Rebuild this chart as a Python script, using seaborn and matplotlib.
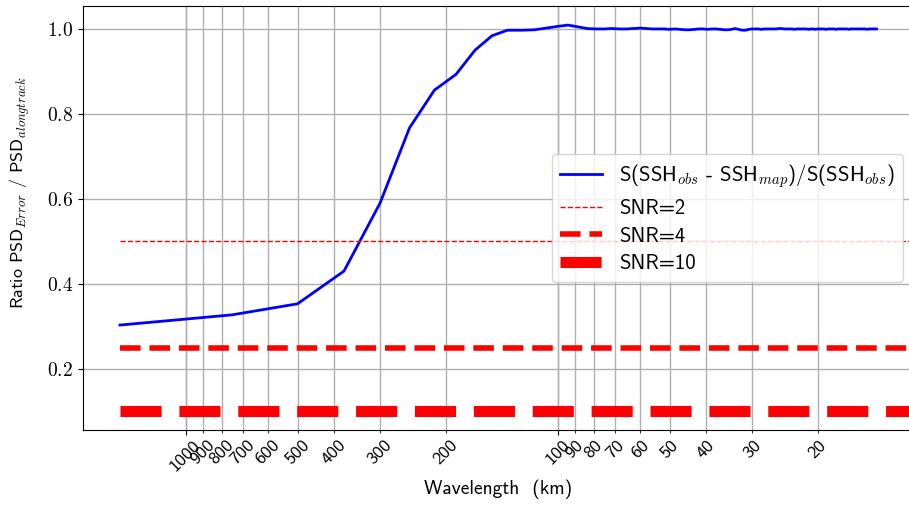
import numpy as np
import matplotlib
matplotlib.use("Agg")
import matplotlib.pyplot as plt
import matplotlib.ticker as mticker
import seaborn as sns

# spectral grid (1/km): step of 1/1500 km^-1
wavenumber = np.arange(1, 109) / 1500.0

# S(SSH_obs - SSH_map) / S(SSH_obs)
psd_ratio = [
    0.303, 0.327, 0.353, 0.430, 0.590, 0.767, 0.856, 0.893, 0.950, 0.984,
    0.997, 0.997, 0.998, 1.002, 1.006, 1.009, 1.005, 1.001, 1.000,
    1.000, 1.001, 1.000, 1.000, 1.001, 1.002, 1.001, 1.000, 1.000, 1.000,
    0.999, 1.000, 0.999, 0.998, 0.998, 0.999, 1.000, 1.000, 0.999, 1.000,
    1.000, 0.999, 0.998, 0.998, 0.999, 1.001, 0.999, 0.997, 0.997, 0.999,
    1.000, 1.000, 1.000, 0.999, 1.000, 1.000, 1.000, 1.000, 1.000, 1.001,
    1.001, 1.000, 1.000, 1.000, 1.000, 0.999, 1.000, 1.000, 1.000, 1.000,
    1.000, 0.999, 1.000, 1.000, 0.999, 1.000, 1.000, 1.000, 1.000, 0.999,
    1.000, 1.000, 1.000, 1.000, 0.999, 1.000, 1.000, 1.000, 1.000, 1.000,
    1.000, 0.999, 1.000, 1.000, 1.000, 1.000, 1.000, 1.000, 1.000, 1.000,
    1.000, 1.000, 0.999, 1.000, 1.000, 1.000, 1.000, 1.000, 1.000,
]

snr_levels = [2, 4, 10]
snr_ratio = [0.5, 0.25, 0.1]
snr_widths = [1, 4, 8]
snr_extent = [1 / 1500.0, 1 / 10.0]

tick_wavelengths = [1000, 900, 800, 700, 600, 500, 400, 300, 200,
                    100, 90, 80, 70, 60, 50, 40, 30, 20]

plt.rcParams["mathtext.fontset"] = "cm"
plt.rcParams["font.family"] = ["cmss10", "DejaVu Sans"]
plt.rcParams["axes.unicode_minus"] = False

fig = plt.figure(figsize=(9.09, 5.21), dpi=100)
ax = fig.add_axes([83 / 909, 91 / 521, 830 / 909, 424 / 521])

sns.lineplot(x=wavenumber, y=psd_ratio, ax=ax, color="blue", lw=2,
             label=r"S(SSH$_{obs}$ - SSH$_{map}$)/S(SSH$_{obs}$)")
for snr, r, w in zip(snr_levels, snr_ratio, snr_widths):
    sns.lineplot(x=snr_extent, y=[r, r], ax=ax, color="red", lw=w, linestyle="--",
                 label="SNR=%d" % snr)

ax.set_xscale("log")
ax.set_xlim(1 / 1886.0, 1 / 11.08)
ax.set_ylim(0.056, 1.054)

ax.xaxis.remove_overlapping_locs = False
ax.xaxis.set_major_formatter(mticker.NullFormatter())
ax.set_xticks([1.0 / w for w in tick_wavelengths], minor=True)
ax.set_xticklabels([str(w) for w in tick_wavelengths], minor=True,
                   rotation=45, fontsize=13)
ax.yaxis.set_major_locator(mticker.MultipleLocator(0.2))
ax.yaxis.set_major_formatter(mticker.FuncFormatter(lambda v, _: r"$%.1f$" % v))
ax.tick_params(axis="y", labelsize=14)

ax.grid(True, which="both", color="#b0b0b0", lw=1)
ax.set_xlabel("Wavelength  (km)", fontsize=14)
ax.set_ylabel(r"Ratio PSD$_{Error}$ / PSD$_{alongtrack}$", fontsize=13)
ax.yaxis.set_label_coords(-0.062, 0.56)

ax.legend(loc="center right", fontsize=15, handlelength=2.0, labelspacing=0.42)

fig.savefig("out.png", dpi=100)
